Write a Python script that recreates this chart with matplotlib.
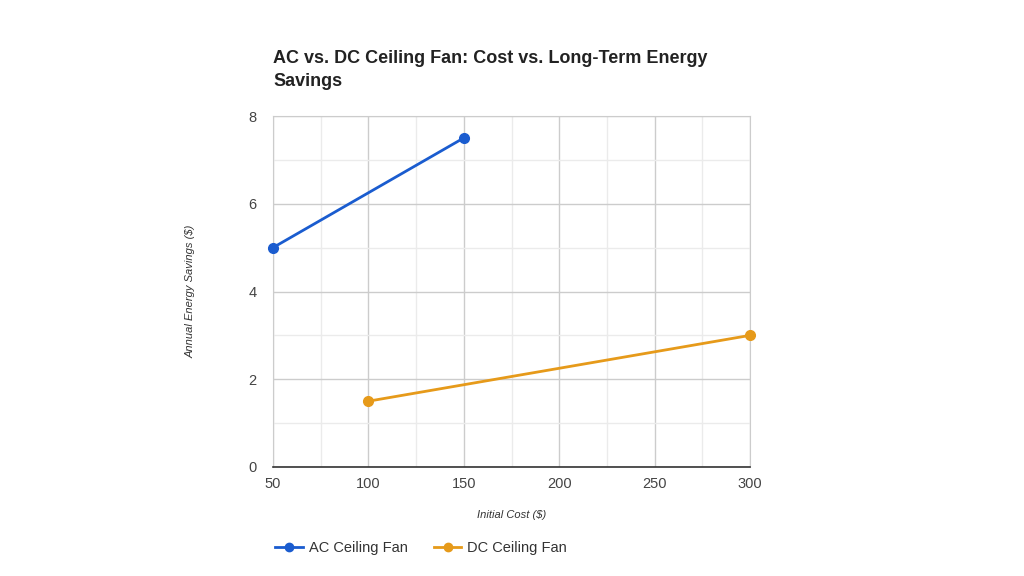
import matplotlib.pyplot as plt
from matplotlib.ticker import MultipleLocator
from matplotlib.lines import Line2D

plt.rcParams['font.family'] = ['Liberation Sans', 'DejaVu Sans']

ac_cost = [50, 150]
ac_savings = [5, 7.5]
dc_cost = [100, 300]
dc_savings = [1.5, 3]

blue = '#1a5ccf'
orange = '#e69a1a'

fig = plt.figure(figsize=(10.24, 5.76), dpi=100)
ax = fig.add_axes([273/1024, 1 - 467/576, (750-273)/1024, (467-116)/576])

ax.plot(ac_cost, ac_savings, color=blue, lw=2, marker='o', ms=7, clip_on=False, zorder=3, label='AC Ceiling Fan')
ax.plot(dc_cost, dc_savings, color=orange, lw=2, marker='o', ms=7, clip_on=False, zorder=3, label='DC Ceiling Fan')

ax.set_xlim(50, 300)
ax.set_ylim(0, 8)
ax.xaxis.set_major_locator(MultipleLocator(50))
ax.xaxis.set_minor_locator(MultipleLocator(25))
ax.yaxis.set_major_locator(MultipleLocator(2))
ax.yaxis.set_minor_locator(MultipleLocator(1))
ax.grid(which='major', color='#cccccc', lw=1)
ax.grid(which='minor', color='#ebebeb', lw=1)
ax.set_axisbelow(True)

for s in ['top', 'right', 'left']:
    ax.spines[s].set_color('#cccccc')
ax.spines['bottom'].set_color('#333333')
ax.spines['bottom'].set_linewidth(1.2)
ax.spines['bottom'].set_zorder(4)

ax.tick_params(which='both', length=0, labelsize=10.5, colors='#444444')
ax.tick_params(axis='y', pad=12)
ax.tick_params(axis='x', pad=7)

ax.set_xlabel('Initial Cost ($)', style='italic', fontsize=8, color='#333333', labelpad=14)
ax.set_ylabel('Annual Energy Savings ($)', style='italic', fontsize=8, color='#333333', labelpad=38)

fig.text(273/1024, 1 - 50/576, 'AC vs. DC Ceiling Fan: Cost vs. Long-Term Energy\nSavings',
         fontsize=13, fontweight='bold', color='#222222', ha='left', va='top', linespacing=1.5)

handles = [Line2D([], [], color=blue, lw=2, marker='o', ms=6),
           Line2D([], [], color=orange, lw=2, marker='o', ms=6)]
fig.legend(handles, ['AC Ceiling Fan', 'DC Ceiling Fan'], loc='center left',
           bbox_to_anchor=(262/1024, 1 - 548/576), ncol=2, frameon=False,
           fontsize=10.5, labelcolor='#333333', handlelength=1.9, columnspacing=1.8, handletextpad=0.4)

fig.savefig('out.png', dpi=100, facecolor='white')
